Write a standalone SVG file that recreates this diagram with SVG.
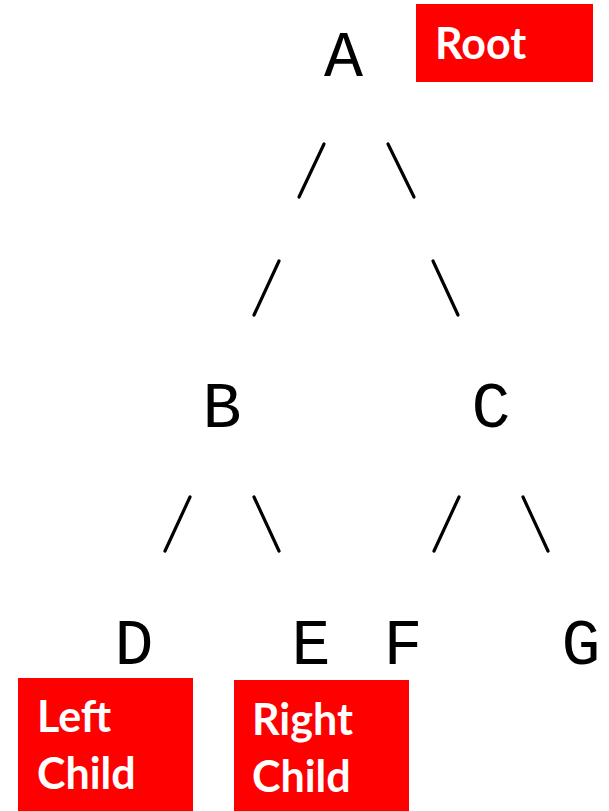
<svg xmlns="http://www.w3.org/2000/svg" width="609" height="811" viewBox="0 0 609 811">
<style>
.n{font-family:"Liberation Mono","Courier New",monospace;font-size:65px;fill:#000;text-anchor:middle}
.lbl{fill:#ff0000}
.lt{font-family:Lato,"Open Sans",sans-serif;font-weight:bold;font-size:43px;fill:#fff}
.e{stroke:#000;stroke-width:3.2;stroke-linecap:round;fill:none}
</style>
<rect width="609" height="811" fill="#fff"/>
<g id="connectors">
<line class="e" x1="324" y1="144" x2="299" y2="197"/>
<line class="e" x1="388" y1="144" x2="414" y2="197"/>
<line class="e" x1="279" y1="261" x2="254" y2="315"/>
<line class="e" x1="433" y1="261" x2="458" y2="315"/>
<line class="e" x1="190" y1="497" x2="165" y2="551"/>
<line class="e" x1="254" y1="497" x2="279" y2="551"/>
<line class="e" x1="459" y1="497" x2="434" y2="551"/>
<line class="e" x1="523" y1="497" x2="548" y2="551"/>
</g>
<g id="node-A"><text class="n" x="343.5" y="76">A</text></g>
<g id="node-B"><text class="n" x="222" y="427">B</text></g>
<g id="node-C"><text class="n" x="491" y="427">C</text></g>
<g id="node-D"><text class="n" x="134" y="664">D</text></g>
<g id="node-E"><text class="n" x="311" y="664">E</text></g>
<g id="node-F"><text class="n" x="403" y="664">F</text></g>
<g id="node-G"><text class="n" x="581" y="664">G</text></g>
<g id="label-root">
<rect class="lbl" x="416" y="4" width="177" height="78"/>
<text class="lt" x="435" y="59">Root</text>
</g>
<g id="label-left">
<rect class="lbl" x="18" y="678" width="175" height="133"/>
<text class="lt" x="37" y="732">Left</text>
<text class="lt" x="37" y="789">Child</text>
</g>
<g id="label-right">
<rect class="lbl" x="234" y="680" width="175" height="131"/>
<text class="lt" x="252" y="735">Right</text>
<text class="lt" x="252" y="792">Child</text>
</g>
</svg>
